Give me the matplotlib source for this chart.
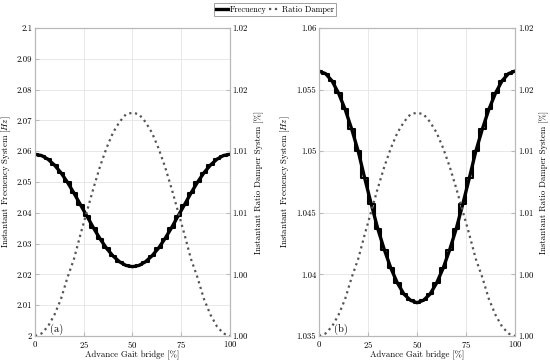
import numpy as np
import matplotlib
matplotlib.use("Agg")
import matplotlib.pyplot as plt

plt.rcParams['font.family'] = 'serif'
plt.rcParams['font.serif'] = ['cmr10', 'DejaVu Serif']
plt.rcParams['mathtext.fontset'] = 'cm'
plt.rcParams['axes.formatter.use_mathtext'] = True

# advance of the gait [%], one value per step (first half, the second half mirrors it)
adv = np.linspace(0, 100, 31)

freq_a_half = [2.0590, 2.0586, 2.0574, 2.0555, 2.0530, 2.0499, 2.0464, 2.0426,
               2.0389, 2.0351, 2.0316, 2.0285, 2.0260, 2.0241, 2.0229, 2.0225]
freq_b_half = [1.0565, 1.0563, 1.0557, 1.0547, 1.0534, 1.0518, 1.0500, 1.0478,
               1.0457, 1.0437, 1.0420, 1.0405, 1.0393, 1.0384, 1.0379, 1.0377]
ratio_half = [1.0000, 1.00016, 1.00062, 1.00138, 1.0024, 1.0038, 1.0050, 1.0066,
              1.0081, 1.0096, 1.0110, 1.0122, 1.0132, 1.0139, 1.0144, 1.0145]

freq_a = freq_a_half + freq_a_half[-2::-1]
freq_b = freq_b_half + freq_b_half[-2::-1]
ratio = ratio_half + ratio_half[-2::-1]

panels = [
    dict(freq=freq_a, ylim=(2.0, 2.1), yticks=np.arange(2.0, 2.1001, 0.01),
         fmt=lambda v: '2' if abs(v - 2) < 1e-9 else ('2.1' if abs(v - 2.1) < 1e-9 else '%.2f' % v),
         tag='(a)', rect=[0.0636, 0.077, 0.3545, 0.846]),
    dict(freq=freq_b, ylim=(1.035, 1.06), yticks=np.arange(1.035, 1.0601, 0.005),
         fmt=lambda v: ('%.3f' % v).rstrip('0'),
         tag='(b)', rect=[0.58, 0.077, 0.3564, 0.846]),
]

fig = plt.figure(figsize=(5.5, 3.64), dpi=100)
grid_c = '#e8e8e8'
spine_c = '#b8b8b8'
fs = 6.3

for p in panels:
    ax = fig.add_axes(p['rect'])
    # thick trend line plus a thin staircase on top gives the jagged stepped look
    l1, = ax.plot(adv, p['freq'], color='black', lw=2.4, label='Frecuency')
    ax.plot(adv, p['freq'], color='black', lw=1.5, drawstyle='steps-mid')
    ax.set_xlim(0, 100)
    ax.set_ylim(*p['ylim'])
    ax.set_xticks([0, 25, 50, 75, 100])
    ax.set_yticks(p['yticks'])
    ax.set_yticklabels([p['fmt'](v) for v in p['yticks']])
    ax.grid(True, color=grid_c, lw=0.7)
    ax.tick_params(direction='in', labelsize=fs, length=3, color=spine_c, pad=2)
    for s in ax.spines.values():
        s.set_color(spine_c)
    ax.set_xlabel('Advance Gait bridge [%]', fontsize=fs, labelpad=1)
    ax.set_ylabel('Instantant Frecuency System [$Hz$]', fontsize=fs, labelpad=3)
    ax.text(7.7, p['ylim'][0] + 0.004 * (p['ylim'][1] - p['ylim'][0]), p['tag'],
            fontsize=7.5, ha='left', va='bottom')

    ax2 = ax.twinx()
    l2, = ax2.plot(adv, ratio, color='#555555', lw=1.6, ls=':', label='Ratio Damper')
    ax2.set_ylim(1.0, 1.02)
    rt = np.linspace(1.0, 1.02, 6)
    ax2.set_yticks(rt)
    ax2.set_yticklabels(['%.2f' % v for v in rt])
    ax2.tick_params(direction='in', labelsize=fs, length=3, color=spine_c, pad=2)
    for s in ax2.spines.values():
        s.set_color(spine_c)
    ax2.set_ylabel('Instantant Ratio Damper System [%]', fontsize=fs, labelpad=5)

leg = fig.legend(handles=[l1, l2], loc='upper center', bbox_to_anchor=(0.5, 0.995),
                 ncol=2, fontsize=6, frameon=True, fancybox=False, handlelength=1.4,
                 handletextpad=0.2, columnspacing=0.3, borderpad=0.25, borderaxespad=0.2)
leg.get_frame().set_edgecolor('#888888')
leg.get_frame().set_linewidth(0.7)

fig.savefig('out.png', dpi=100)
